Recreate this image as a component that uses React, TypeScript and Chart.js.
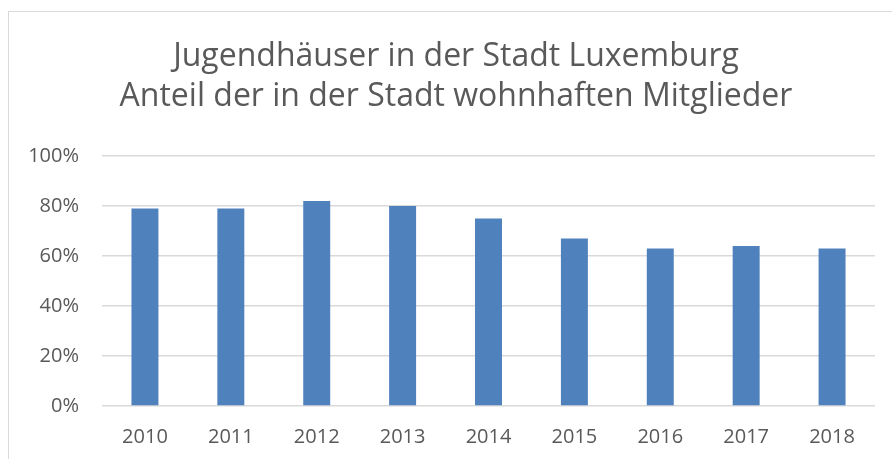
import React, { useEffect, useRef } from "react";
import { Chart, registerables } from "chart.js";

Chart.register(...registerables);

const years = ["2010", "2011", "2012", "2013", "2014", "2015", "2016", "2017", "2018"];
const shares = [79, 79, 82, 80, 75, 67, 63, 64, 63];
const titleLines = ["Jugendhäuser in der Stadt Luxemburg", "Anteil der in der Stadt wohnhaften Mitglieder"];

const FONT = "'Open Sans', 'DejaVu Sans', sans-serif";
const TEXT = "#595959";
const GRID = "#d9d9d9";

const shiftTitle = {
  id: "shiftTitle",
  afterLayout(chart: any) {
    const t = chart.titleBlock;
    if (t) {
      t.left = 37;
      t.right = 875;
      t.width = t.right - t.left;
    }
  },
};

export default function App() {
  const ref = useRef<HTMLCanvasElement | null>(null);

  useEffect(() => {
    if (!ref.current) return;
    const chart = new Chart(ref.current, {
      type: "bar",
      data: {
        labels: years,
        datasets: [
          {
            data: shares,
            backgroundColor: "#4F81BD",
            borderWidth: 0,
            categoryPercentage: 1,
            barPercentage: 0.314,
          },
        ],
      },
      plugins: [shiftTitle],
      options: {
        animation: false,
        responsive: false,
        layout: { padding: { left: 8, right: 17, top: 0, bottom: 0 } },
        plugins: {
          legend: { display: false },
          tooltip: { enabled: false },
          title: {
            display: true,
            text: titleLines,
            color: TEXT,
            font: { family: FONT, size: 32, weight: "normal", lineHeight: 40 / 32 },
            padding: { top: 37, bottom: 39 },
          },
        },
        scales: {
          x: {
            grid: { display: false, drawTicks: false },
            border: { display: false },
            ticks: { color: TEXT, font: { family: FONT, size: 20 }, padding: 19, maxRotation: 0 },
            afterFit: (s: any) => {
              s.height = 53;
            },
          },
          y: {
            min: 0,
            max: 100,
            ticks: {
              stepSize: 20,
              color: TEXT,
              font: { family: FONT, size: 20 },
              padding: 23,
              callback: (v: any) => v + "%",
            },
            grid: { color: GRID, lineWidth: 1.5, drawTicks: false },
            border: { display: false },
            afterFit: (s: any) => {
              s.width = 94;
            },
          },
        },
      },
    });
    return () => chart.destroy();
  }, []);

  return (
    <div>
      <div
        style={{
          position: "fixed",
          left: 8,
          top: 11,
          width: 2000,
          height: 2000,
          borderLeft: "1px solid #d9d9d9",
          borderTop: "1px solid #d9d9d9",
        }}
      />
      <canvas
        ref={ref}
        width={892}
        height={459}
        style={{ position: "fixed", left: 0, top: 0, display: "block" }}
      />
    </div>
  );
}
